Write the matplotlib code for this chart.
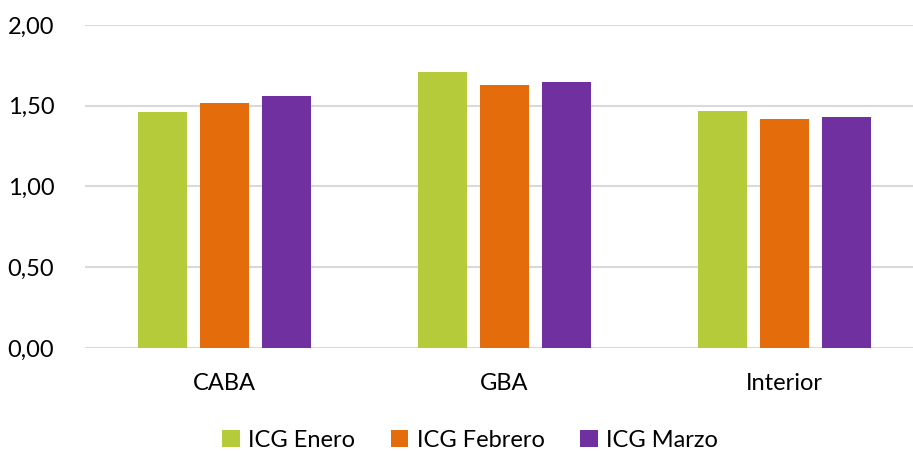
import matplotlib
matplotlib.use("Agg")
import matplotlib.pyplot as plt
import numpy as np

plt.rcParams['font.family'] = ['Lato', 'DejaVu Sans']

# data
regiones = ["CABA", "GBA", "Interior"]
series = ["ICG Enero", "ICG Febrero", "ICG Marzo"]
enero = [1.46, 1.71, 1.47]
febrero = [1.52, 1.63, 1.42]
marzo = [1.56, 1.65, 1.43]
yticks = [0.0, 0.5, 1.0, 1.5, 2.0]

colores = ["#b5cb3a", "#e46c0a", "#7030a0"]

fig = plt.figure(figsize=(9.13, 4.51), dpi=100)
ax = fig.add_axes([0.093, 0.2284, 0.907, 0.7162])

x = np.arange(len(regiones))
ancho = 0.175
paso = 0.222
for i, (nombre, vals) in enumerate(zip(series, [enero, febrero, marzo])):
    ax.bar(x + (i - 1) * paso, vals, ancho, color=colores[i], label=nombre, zorder=3)

ax.set_xlim(-0.5, 2.46)
ax.set_ylim(0, 2.0)
ax.set_yticks(yticks)
ax.set_yticklabels([f"{v:.2f}".replace(".", ",") for v in yticks], fontsize=17)
ax.set_xticks(x)
ax.set_xticklabels(regiones, fontsize=17)
ax.grid(axis="y", color="#d9d9d9", linewidth=1.5, zorder=0)
for s in ax.spines.values():
    s.set_visible(False)
ax.tick_params(axis="both", length=0, colors="#000000")
ax.tick_params(axis="x", pad=18)
ax.tick_params(axis="y", pad=22)

ax.legend(loc="center", bbox_to_anchor=(0.465, -0.285), ncol=3, frameon=False,
          fontsize=17, handlelength=0.75, handleheight=0.75, handletextpad=0.35,
          columnspacing=1.5, borderpad=0)

fig.savefig("out.png", dpi=100)
